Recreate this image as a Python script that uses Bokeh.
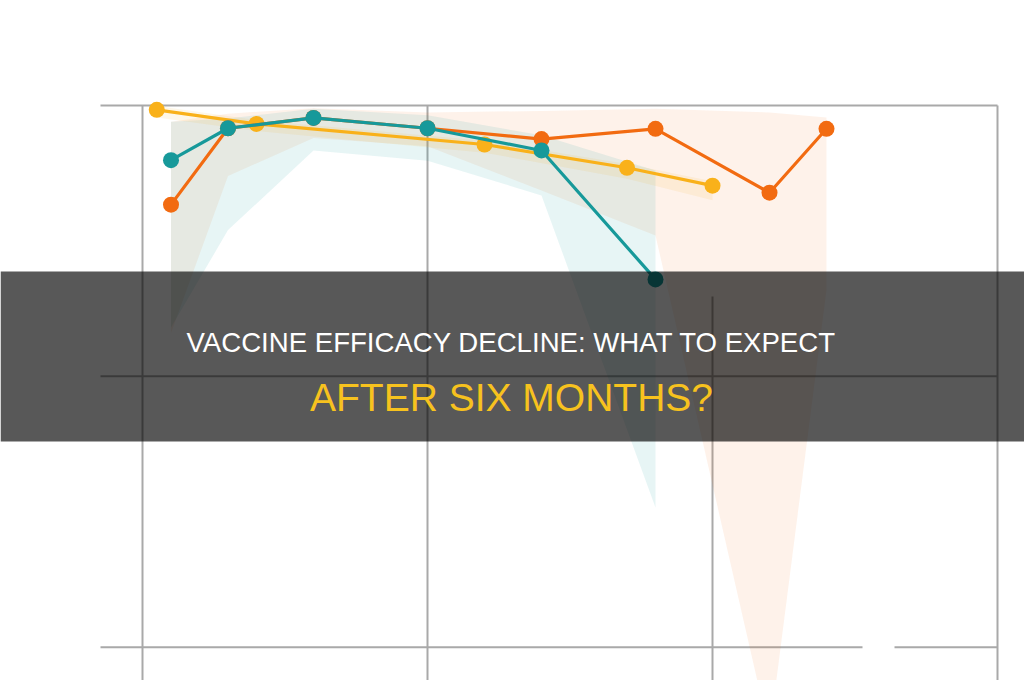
from bokeh.plotting import figure
from bokeh.models import Range1d, BoxAnnotation, Label
from bokeh.embed import file_html
from bokeh.resources import INLINE

# ---------------- data (weeks since vaccination, efficacy %) ----------------
teal_x = [1, 3, 6, 10, 14, 18]
teal_y = [89.9, 95.8, 97.7, 95.8, 91.7, 67.9]
teal_lo = [59, 77, 91.7, 89.8, 83.4, 25.8]
teal_hi = [97, 97.6, 99.4, 98.2, 94.5, 88]

orange_x = [1, 3, 6, 10, 14, 18, 22, 24]
orange_y = [81.7, 95.8, 97.7, 95.8, 93.8, 95.7, 83.9, 95.7]
orange_lo = [58, 87, 94, 92.5, 84.3, 76, -16, 66]
orange_hi = [97, 98.5, 99.5, 98.7, 99, 99.4, 98.7, 97.8]

yellow_x = [0.5, 4, 12, 17, 20]
yellow_y = [99.2, 96.6, 92.8, 88.5, 85.2]
yellow_lo = [97.8, 95.3, 91.3, 86.5, 82.5]
yellow_hi = [99.9, 97.3, 93.5, 89.2, 86.0]

x_ticks = [0, 10, 20, 30]
y_ticks = [0, 50, 100]

title_1 = "VACCINE EFFICACY DECLINE: WHAT TO EXPECT"
title_2 = "AFTER SIX MONTHS?"

TEAL = "#17999a"
ORANGE = "#f26b11"
YELLOW = "#f9b11a"
GRID = "#a9a9a9"

# ---------------- pixel helpers (canvas px -> data) ----------------
W, H = 1024, 680
PX_X0, PX_PER_X = 142.0, 28.5
PX_Y100, PX_PER_Y = 105.0, 5.417


def dx(px):
    return (px - PX_X0) / PX_PER_X


def dy(py):
    return 100 - (py - PX_Y100) / PX_PER_Y


p = figure(width=W, height=H, output_backend="svg", toolbar_location=None,
           x_axis_location=None, y_axis_location=None,
           x_range=Range1d(dx(0), dx(W)), y_range=Range1d(dy(H), dy(0)),
           min_border=0, min_border_left=0, min_border_right=0,
           min_border_top=0, min_border_bottom=0)
p.outline_line_color = None
p.grid.visible = False
p.background_fill_color = "white"
p.border_fill_color = "white"

# ---------------- grid lines ----------------
x_left = dx(100)
x_right = x_ticks[-1]
ybot = dy(H + 20)
hx0, hx1, hy = [], [], []
for yt in y_ticks:
    if yt == y_ticks[0]:
        hx0 += [x_left, dx(894)]
        hx1 += [dx(862), x_right]
        hy += [yt, yt]
    else:
        hx0.append(x_left)
        hx1.append(x_right)
        hy.append(yt)
p.segment(x0=hx0, x1=hx1, y0=hy, y1=hy, line_color=GRID, line_width=2)
vx, vtop = [], []
for xt in x_ticks:
    vx.append(xt)
    vtop.append(dy(296) if xt == 20 else y_ticks[-1])
p.segment(x0=vx, x1=vx, y0=vtop, y1=[ybot] * len(vx), line_color=GRID, line_width=2)

# ---------------- bands ----------------
p.varea(x=orange_x, y1=orange_lo, y2=orange_hi, fill_color=ORANGE, fill_alpha=0.09)
p.varea(x=teal_x, y1=teal_lo, y2=teal_hi, fill_color=TEAL, fill_alpha=0.10)
p.varea(x=yellow_x, y1=yellow_lo, y2=yellow_hi, fill_color=YELLOW, fill_alpha=0.10)

# ---------------- lines ----------------
p.line(yellow_x, yellow_y, line_color=YELLOW, line_width=3.2)
p.scatter(yellow_x, yellow_y, size=16, fill_color=YELLOW, line_color=None)
p.line(orange_x, orange_y, line_color=ORANGE, line_width=3.2)
p.scatter(orange_x, orange_y, size=16, fill_color=ORANGE, line_color=None)
p.line(teal_x, teal_y, line_color=TEAL, line_width=3.2)
p.scatter(teal_x, teal_y, size=16, fill_color=TEAL, line_color=None)

# ---------------- banner ----------------
p.add_layout(BoxAnnotation(bottom=dy(441), top=dy(271), fill_color="black",
                           fill_alpha=0.655, line_color=None))
p.add_layout(Label(x=dx(511), y=dy(342), text=title_1, text_align="center",
                   text_baseline="alphabetic", text_color="white",
                   text_font="Liberation Sans", text_font_size="27.6px"))
p.add_layout(Label(x=dx(511), y=dy(397), text=title_2, text_align="center",
                   text_baseline="alphabetic", text_color="#f7c21e",
                   text_font="Liberation Sans", text_font_size="39px"))

open("out.html", "w").write(file_html(p, INLINE))
